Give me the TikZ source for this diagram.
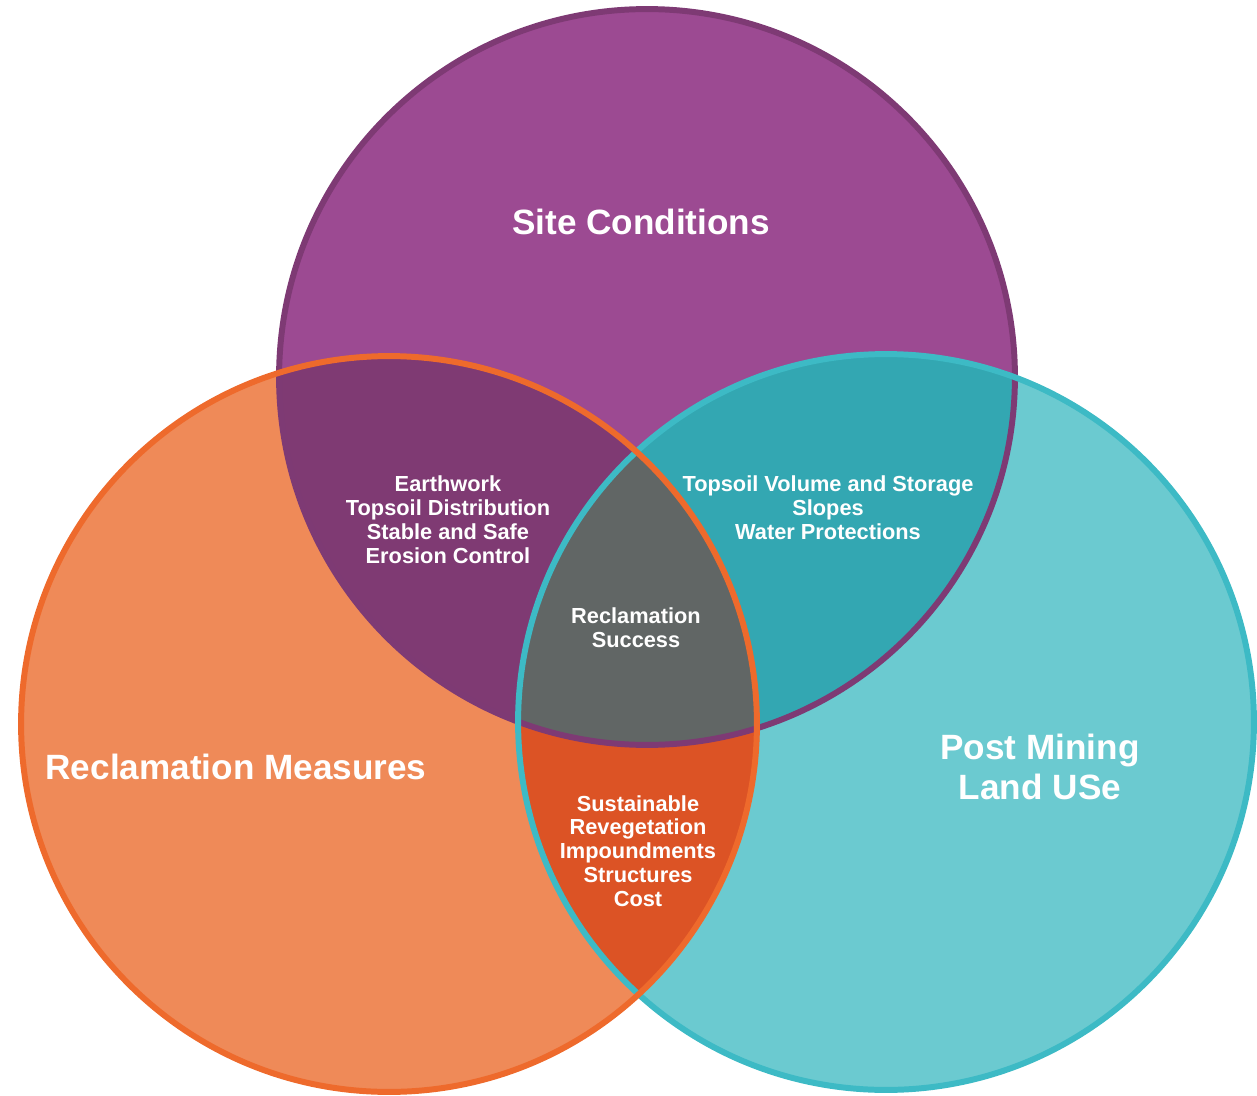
\documentclass[tikz,border=0pt]{standalone}
\usepackage{fontspec}
\setmainfont{Liberation Sans}
\definecolor{sitefill}{HTML}{9C4A92}
\definecolor{siteline}{HTML}{7E3A74}
\definecolor{reclfill}{HTML}{EF8A58}
\definecolor{reclline}{HTML}{EE6A2C}
\definecolor{postfill}{HTML}{6BCAD0}
\definecolor{postline}{HTML}{3DBAC5}
\definecolor{sitereclfill}{HTML}{7F3A73}
\definecolor{sitepostfill}{HTML}{33A7B2}
\definecolor{reclpostfill}{HTML}{DC5325}
\definecolor{centerfill}{HTML}{616665}
\tikzset{
  biglabel/.style={text=white,font=\fontsize{20}{22.7}\selectfont\bfseries,align=center},
  smalllabel/.style={text=white,font=\fontsize{12.4}{13.6}\selectfont\bfseries,align=center},
  rim/.style={line width=3.4pt}
}
\begin{document}
\begin{tikzpicture}[x=0.02cm,y=-0.02cm]
   \useasboundingbox (0,0) rectangle (1257,1095);
   \def\r{7.36cm}
   % 円の中心
   \coordinate (site) at (647,377);
   \coordinate (recl) at (389,724);
   \coordinate (post) at (886,722);

   % 塗り
   \fill[sitefill] (site) circle (\r);
   \fill[reclfill] (recl) circle (\r);
   \fill[postfill] (post) circle (\r);
   \begin{scope}
      \clip (site) circle (\r);
      \fill[sitereclfill] (recl) circle (\r);
      \fill[sitepostfill] (post) circle (\r);
   \end{scope}
   \begin{scope}
      \clip (recl) circle (\r);
      \fill[reclpostfill] (post) circle (\r);
      \clip (post) circle (\r);
      \fill[centerfill] (site) circle (\r);
   \end{scope}

   % 輪郭
   \draw[rim,siteline] (site) circle (\r);
   \draw[rim,postline] (post) circle (\r);
   \draw[rim,reclline] (recl) circle (\r);

   % ラベル
   \node[biglabel] (sitelabel) at (641,222) {Site Conditions};
   \node[biglabel] (recllabel) at (236,767) {Reclamation Measures};
   \node[biglabel] (postlabel) at (1040,767) {Post Mining\\Land USe};
   \node[smalllabel] (sitereclabel) at (448,520) {Earthwork\\Topsoil Distribution\\Stable and Safe\\Erosion Control};
   \node[smalllabel] (sitepostlabel) at (828,508) {Topsoil Volume and Storage\\Slopes\\Water Protections};
   \node[smalllabel] (centerlabel) at (636,628) {Reclamation\\Success};
   \node[smalllabel] (reclpostlabel) at (638,851) {Sustainable\\Revegetation\\Impoundments\\Structures\\Cost};
\end{tikzpicture}
\end{document}
